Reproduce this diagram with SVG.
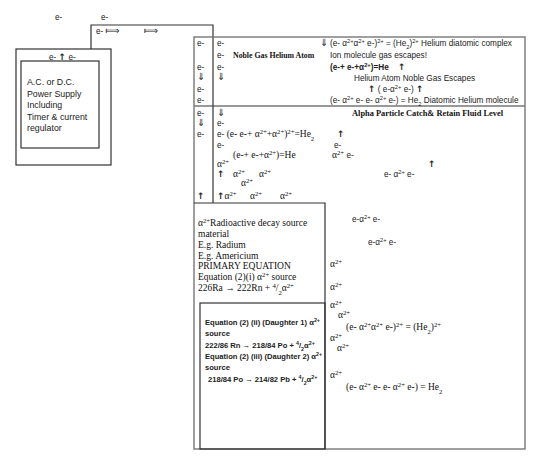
<svg xmlns="http://www.w3.org/2000/svg" width="545" height="467" viewBox="0 0 545 467">
<style>
.s{font-family:"Liberation Sans",Arial,sans-serif;font-size:8.2px;fill:#222}
.r{font-family:"Liberation Serif","Times New Roman",serif;font-size:9.5px;fill:#111}
.b{font-weight:bold}
.ar{font-family:"DejaVu Sans",sans-serif;font-size:10px;fill:#222}
.lr{font-family:"DejaVu Sans",sans-serif;font-size:10px;fill:#222}
.up{font-family:"DejaVu Sans",sans-serif;font-size:9px;font-weight:bold;fill:#222}
.sup{baseline-shift:super;font-size:70%}
.sub{baseline-shift:sub;font-size:70%}
.ln{fill:none;stroke:#333;stroke-width:1.2}
.gl{fill:none;stroke:#777;stroke-width:1.4}
.lt{font-size:8.8px}
.nb{font-size:7.8px}
.ap{font-size:8.4px}
.d{font-size:7.6px}
</style>
<rect width="545" height="467" fill="#fff"/>
<g id="connectors">
  <path class="ln" d="M91,49 V25 H213 V37"/>
  <line class="ln" x1="213" y1="37" x2="213" y2="203"/>
  <line class="ln" x1="194" y1="106" x2="525" y2="106"/>
</g>
<g id="free-electrons">
  <text class="s" x="55" y="20">e-</text>
  <text class="s" x="101" y="20">e-</text>
  <text class="s" x="96" y="34">e- <tspan class="lr">⟾</tspan></text>
  <text class="lr" x="144" y="34">⟾</text>
</g>
<g id="power-supply">
  <rect class="ln" x="16" y="49" width="95" height="116"/>
  <rect class="ln" x="21" y="61" width="78" height="87"/>
  <text class="s" x="49" y="60">e- <tspan class="up">↑</tspan> e-</text>
  <text class="s lt" x="27" y="85">A.C. or D.C.</text>
  <text class="s lt" x="27" y="96.5">Power Supply</text>
  <text class="s lt" x="27" y="108">Including</text>
  <text class="s lt" x="27" y="119.5">Timer &amp; current</text>
  <text class="s lt" x="27" y="131">regulator</text>
</g>
<g id="reaction-chamber">
  <rect class="gl" x="194" y="37" width="331" height="412"/>
  <text class="s" x="197" y="46">e-</text>
  <text class="s" x="197" y="70">e-</text>
  <text class="ar" x="197" y="80">⇓</text>
  <text class="s" x="197" y="92">e-</text>
  <text class="s" x="197" y="103">e-</text>
  <text class="s" x="197" y="116">e-</text>
  <text class="ar" x="197" y="126">⇓</text>
  <text class="s" x="197" y="137">e-</text>
  <text class="up" x="197" y="199">↑</text>
  <text class="s" x="217" y="46">e-</text>
  <text class="s" x="217" y="58">e-</text>
  <text class="r b nb" x="233" y="58">Noble Gas Helium Atom</text>
  <text class="s" x="217" y="70">e-</text>
  <text class="ar" x="217" y="80">⇓</text>
  <text class="ar" x="320" y="46">⇓</text>
  <text class="s" x="330" y="46">(e- α<tspan class="sup">2+</tspan>α<tspan class="sup">2+</tspan> e-)<tspan class="sup">2+</tspan> = (He<tspan class="sub">2</tspan>)<tspan class="sup">2+</tspan> Helium diatomic complex</text>
  <text class="s" x="330" y="58">Ion molecule gas escapes!</text>
  <text class="s b" x="330" y="70">(e-+ e-+α<tspan class="sup">2+</tspan>)=He</text>
  <text class="up" x="398" y="70">↑</text>
  <text class="s" x="354" y="81">Helium Atom Noble Gas Escapes</text>
  <text class="s" x="368" y="92"><tspan class="up">↑</tspan>  ( e-α<tspan class="sup">2+</tspan> e-) <tspan class="up">↑</tspan></text>
  <text class="s" x="330" y="103">(e- α<tspan class="sup">2+</tspan> e- e- α<tspan class="sup">2+</tspan> e-) = He<tspan class="sub">2</tspan> Diatomic Helium molecule</text>
  <text class="r b ap" x="352" y="116">Alpha Particle Catch&amp; Retain Fluid Level</text>
  <text class="ar" x="217" y="116">⇓</text>
  <text class="s" x="217" y="126">e-</text>
  <text class="r" x="217" y="137"><tspan class="s">e-</tspan> (e- e-+ α<tspan class="sup">2+</tspan>+α<tspan class="sup">2+</tspan>)<tspan class="sup">2+</tspan>=He<tspan class="sub">2</tspan></text>
  <text class="up" x="337" y="137">↑</text>
  <text class="s" x="217" y="148">e-</text>
  <text class="s" x="334" y="148">e-</text>
  <text class="r" x="233" y="158">(e-+ e-+α<tspan class="sup">2+</tspan>)=He</text>
  <text class="r" x="332" y="158">α<tspan class="sup">2+</tspan> <tspan class="s">e-</tspan></text>
  <text class="r" x="217" y="167">α<tspan class="sup">2+</tspan></text>
  <text class="up" x="428" y="167">↑</text>
  <text class="up" x="217" y="177">↑</text>
  <text class="r" x="233" y="177">α<tspan class="sup">2+</tspan></text>
  <text class="r" x="259" y="177">α<tspan class="sup">2+</tspan></text>
  <text class="s" x="384" y="177">e- α<tspan class="sup">2+</tspan> e-</text>
  <text class="r" x="241" y="186">α<tspan class="sup">2+</tspan></text>
  <text class="r" x="217" y="199"><tspan class="up">↑</tspan>α<tspan class="sup">2+</tspan></text>
  <text class="r" x="250" y="199">α<tspan class="sup">2+</tspan></text>
  <text class="r" x="280" y="199">α<tspan class="sup">2+</tspan></text>
  <text class="s" x="352" y="222">e-α<tspan class="sup">2+</tspan> e-</text>
  <text class="s" x="368" y="245">e-α<tspan class="sup">2+</tspan> e-</text>
  <text class="r" x="330" y="267">α<tspan class="sup">2+</tspan></text>
  <text class="r" x="330" y="290">α<tspan class="sup">2+</tspan></text>
  <text class="r" x="330" y="308">α<tspan class="sup">2+</tspan></text>
  <text class="r" x="338" y="318">α<tspan class="sup">2+</tspan></text>
  <text class="r" x="346" y="330">(e- α<tspan class="sup">2+</tspan>α<tspan class="sup">2+</tspan> e-)<tspan class="sup">2+</tspan> = (He<tspan class="sub">2</tspan>)<tspan class="sup">2+</tspan></text>
  <text class="r" x="330" y="341">α<tspan class="sup">2+</tspan></text>
  <text class="r" x="337" y="351">α<tspan class="sup">2+</tspan></text>
  <text class="r" x="330" y="378">α<tspan class="sup">2+</tspan></text>
  <text class="r" x="346" y="390">(e- α<tspan class="sup">2+</tspan> e- e- α<tspan class="sup">2+</tspan> e-) = He<tspan class="sub">2</tspan></text>
</g>
<g id="source-box">
  <path class="ln" d="M194,203 H325 V449"/>
  <text class="r" x="198" y="226">α<tspan class="sup">2+</tspan>Radioactive decay source</text>
  <text class="r" x="198" y="237">material</text>
  <text class="r" x="198" y="248">E.g. Radium</text>
  <text class="r" x="198" y="259">E.g. Americium</text>
  <text class="r" x="198" y="269">PRIMARY EQUATION</text>
  <text class="r" x="198" y="280">Equation (2)(i) α<tspan class="sup">2+</tspan> source</text>
  <text class="r" x="198" y="291">226Ra → 222Rn + <tspan class="sup">4</tspan>/<tspan class="sub">2</tspan>α<tspan class="sup">2+</tspan></text>
</g>
<g id="daughter-box">
  <rect class="ln" x="200" y="303" width="125" height="146"/>
  <text class="s b d" x="205" y="325">Equation (2) (ii) (Daughter 1) α<tspan class="sup">2+</tspan></text>
  <text class="s b d" x="205" y="336">source</text>
  <text class="s b d" x="205" y="348">222/86 Rn → 218/84 Po + <tspan class="sup">4</tspan>/<tspan class="sub">2</tspan>α<tspan class="sup">2+</tspan></text>
  <text class="s b d" x="205" y="359">Equation (2) (iii) (Daughter 2) α<tspan class="sup">2+</tspan></text>
  <text class="s b d" x="205" y="370">source</text>
  <text class="s b d" x="208" y="382">218/84 Po → 214/82 Pb + <tspan class="sup">4</tspan>/<tspan class="sub">2</tspan>α<tspan class="sup">2+</tspan></text>
</g>
</svg>
